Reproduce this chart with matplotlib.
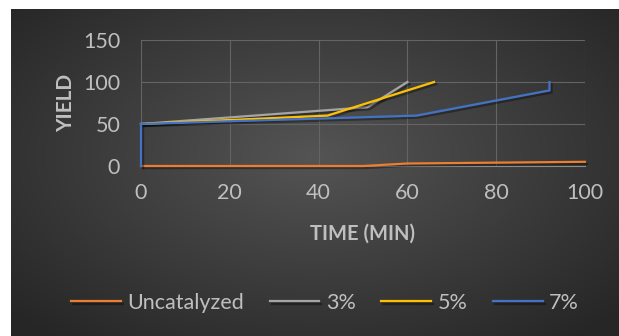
import numpy as np
import matplotlib.pyplot as plt
import matplotlib.patheffects as pe

# reaction yield vs time for each catalyst loading
t_uncat = [0, 50, 60, 100]
y_uncat = [0, 0, 3, 5]

t_3 = [0, 51, 60]
y_3 = [50, 70, 100]

t_5 = [0, 42, 66]
y_5 = [50, 60, 100]

t_7 = [0, 0, 62, 92, 92]
y_7 = [0, 50, 60, 90, 100]

series = [
    ("Uncatalyzed", t_uncat, y_uncat, "#ED7D31"),
    ("3%", t_3, y_3, "#A5A5A5"),
    ("5%", t_5, y_5, "#FFC000"),
    ("7%", t_7, y_7, "#4472C4"),
]

plt.rcParams['font.family'] = ['Lato', 'DejaVu Sans']
txt = "#BFBFBF"
fs = 15.5

fig = plt.figure(figsize=(6.19, 3.36), dpi=100)
fig.patch.set_facecolor("white")

# dark panel with a radial gradient
bg = fig.add_axes([11 / 619, 0, 1 - 11 / 619, 1 - 9 / 336])
bg.set_axis_off()
yy, xx = np.mgrid[0:1:300j, 0:1:560j]
r = np.sqrt(((xx - 0.5) / 0.75) ** 2 + ((yy - 0.45) / 0.8) ** 2)
shade = np.clip(0.33 - 0.2 * r, 0.15, 0.35)
bg.imshow(np.dstack([shade] * 3), aspect="auto", extent=[0, 1, 0, 1], interpolation="bilinear")

ax = fig.add_axes([141 / 619, 1 - 166 / 336, 444 / 619, 126 / 336])
ax.set_facecolor("none")

for name, t, y, c in series:
    ax.plot(t, y, color=c, lw=1.6, label=name, solid_joinstyle="miter",
            clip_on=False, zorder=3,
            path_effects=[pe.SimpleLineShadow(offset=(1.5, -1.5), alpha=0.35), pe.Normal()])

ax.set_xlim(0, 100)
ax.set_ylim(0, 150)
ax.set_xticks(range(0, 101, 20))
ax.set_yticks(range(0, 151, 50))
ax.grid(True, color="#646464", lw=0.8)
ax.set_axisbelow(True)
for s in ["top", "right", "left"]:
    ax.spines[s].set_visible(False)
ax.spines["bottom"].set_color("#8C8C8C")
ax.spines["bottom"].set_zorder(1)
ax.tick_params(length=0, labelsize=fs, colors=txt)
ax.tick_params(axis="x", pad=12)
ax.tick_params(axis="y", pad=15)

ax.set_xlabel("TIME (MIN)", fontsize=fs - 1, fontweight="bold", color=txt, labelpad=15)
ax.set_ylabel("YIELD", fontsize=fs - 0.5, fontweight="bold", color=txt, labelpad=5)

fig.legend(loc="center", bbox_to_anchor=(0.525, 1 - 303 / 336), ncol=4, frameon=False,
           fontsize=fs, labelcolor=txt, handlelength=2.3, handletextpad=0.3,
           columnspacing=1.2)

fig.savefig("out.png", dpi=100)
